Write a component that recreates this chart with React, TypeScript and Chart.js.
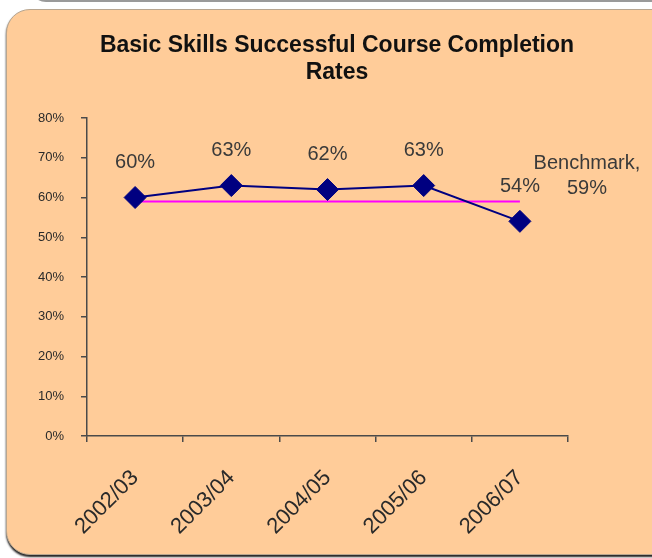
import React, { useEffect, useRef } from "react";
import { Chart, registerables } from "chart.js";

Chart.register(...registerables);

const categories = ["2002/03", "2003/04", "2004/05", "2005/06", "2006/07"];
const completionRates = [60, 63, 62, 63, 54];
const benchmarkValues = [59, 59, 59, 59, 59];
const benchmarkLabel = "Benchmark,";
const titleLines = ["Basic Skills Successful Course Completion", "Rates"];
const yTickMin = 0;
const yTickMax = 80;
const yTickStep = 10;

const FONT = "'Liberation Sans', Arial, sans-serif";
const TEXT = "#3a3a3a";

const W = 652;
const H = 558;
const AREA = { left: 87, right: 568, top: 118, bottom: 436 };

const labelsPlugin = {
  id: "customLabels",
  afterDraw(chart: any) {
    const ctx = chart.ctx;
    ctx.save();
    // title
    ctx.fillStyle = "#111";
    ctx.font = `bold 23px ${FONT}`;
    ctx.textAlign = "center";
    ctx.textBaseline = "middle";
    ctx.fillText(titleLines[0], 337, 46);
    ctx.fillText(titleLines[1], 337, 73);

    // data labels
    ctx.font = `20px ${FONT}`;
    ctx.fillStyle = TEXT;
    const meta0 = chart.getDatasetMeta(0);
    meta0.data.forEach((pt: any, i: number) => {
      ctx.fillText(`${completionRates[i]}%`, pt.x, pt.y - 35);
    });
    const meta1 = chart.getDatasetMeta(1);
    const last = meta1.data[meta1.data.length - 1];
    const v = benchmarkValues[benchmarkValues.length - 1];
    ctx.fillText(benchmarkLabel, last.x + 67, last.y - 38);
    ctx.fillText(`${v}%`, last.x + 67, last.y - 13);
    ctx.restore();
  },
};

function App() {
  const ref = useRef<HTMLCanvasElement | null>(null);

  useEffect(() => {
    if (!ref.current) return;
    const chart = new Chart(ref.current, {
      type: "line",
      data: {
        labels: categories,
        datasets: [
          {
            label: "Completion Rate",
            data: completionRates,
            borderColor: "#000080",
            backgroundColor: "#000080",
            borderWidth: 2,
            pointStyle: "rectRot",
            pointRadius: 11,
            pointHoverRadius: 11,
            pointBackgroundColor: "#000080",
            pointBorderColor: "#000080",
            pointBorderWidth: 1,
            tension: 0,
            order: 1,
          },
          {
            label: "Benchmark",
            data: benchmarkValues,
            borderColor: "#ff00ff",
            borderWidth: 2,
            pointRadius: 0,
            pointHoverRadius: 0,
            tension: 0,
            order: 2,
          },
        ],
      },
      options: {
        responsive: false,
        animation: false,
        events: [],
        layout: {
          padding: { left: 0, right: W - AREA.right, top: AREA.top, bottom: 0 },
        },
        plugins: {
          legend: { display: false },
          title: { display: false },
          tooltip: { enabled: false },
        },
        scales: {
          x: {
            type: "category",
            offset: true,
            grid: {
              drawOnChartArea: false,
              drawTicks: true,
              tickLength: 6,
              color: "#4a4a4a",
              lineWidth: 1.5,
              offset: true,
            },
            border: { display: true, color: "#4a4a4a", width: 1.5 },
            ticks: {
              color: "#2a2a2a",
              font: { family: FONT, size: 22 },
              minRotation: 45,
              maxRotation: 45,
              padding: 23,
              autoSkip: false,
            },
            afterFit(scale: any) {
              scale.height = H - AREA.bottom;
            },
          },
          y: {
            min: yTickMin,
            max: yTickMax,
            grid: {
              drawOnChartArea: false,
              drawTicks: true,
              tickLength: 6,
              color: "#4a4a4a",
              lineWidth: 1.5,
            },
            border: { display: true, color: "#4a4a4a", width: 1.5 },
            ticks: {
              stepSize: yTickStep,
              color: "#2a2a2a",
              font: { family: FONT, size: 13 },
              padding: 17,
              callback: (v: any) => `${v}%`,
            },
            afterFit(scale: any) {
              scale.width = AREA.left;
            },
          },
        },
      },
      plugins: [labelsPlugin],
    });
    return () => chart.destroy();
  }, []);

  return (
    <div
      style={{
        position: "absolute",
        left: 0,
        top: 0,
        width: W,
        height: H,
        overflow: "hidden",
        background: "#ffffff",
      }}
    >
      <div
        style={{
          position: "absolute",
          left: 30,
          top: -30,
          width: 700,
          height: 32,
          borderBottom: "2px solid #9a9a9a",
          borderRadius: 20,
          boxSizing: "border-box",
        }}
      />
      <div
        style={{
          position: "absolute",
          left: 6,
          top: 9,
          width: 700,
          height: 546,
          background: "#FFCC99",
          border: "1px solid #b8a690",
          borderRadius: 24,
          boxSizing: "border-box",
          boxShadow: "0 2px 2px #222",
        }}
      />
      <canvas
        ref={ref}
        width={W}
        height={H}
        style={{ position: "absolute", left: 0, top: 0, display: "block" }}
      />
    </div>
  );
}

export default App;
